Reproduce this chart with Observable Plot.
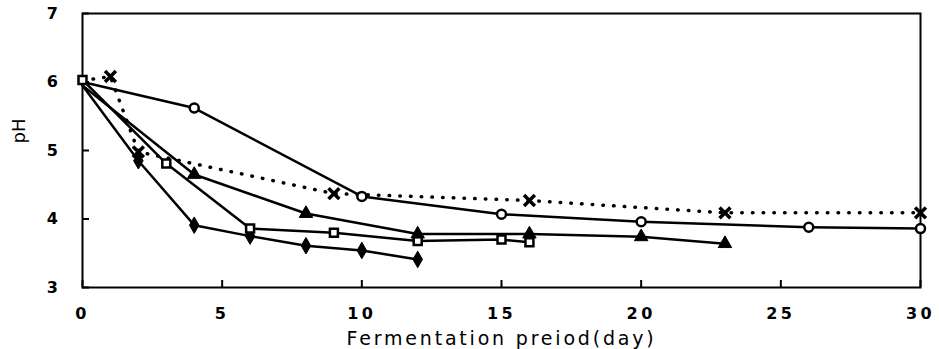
<!DOCTYPE html>
<html>
<head>
<meta charset="utf-8">
<script src="https://cdn.jsdelivr.net/npm/d3@7"></script>
<script src="https://cdn.jsdelivr.net/npm/@observablehq/plot@0.6"></script>
<style>
  html, body { margin: 0; padding: 0; background: #fff; }
  #chart { width: 939px; height: 349px; }
  #chart g[aria-label="x-axis tick label"] text, #chart g[aria-label="y-axis tick label"] text { letter-spacing: 3.5px; }
  #chart g[aria-label="x-axis label"] text { letter-spacing: 2.8px; font-weight: normal; font-size: 19px; }
</style>
</head>
<body>
<div id="chart"></div>
<script>
// Data
const xTicks = [0, 5, 10, 15, 20, 25, 30];
const yTicks = [3, 4, 5, 6, 7];

const circleDays = [0, 4, 10, 15, 20, 26, 30];
const circlePH   = [6.0, 5.62, 4.33, 4.07, 3.96, 3.88, 3.86];

const crossDays  = [0, 1, 2, 9, 16, 23, 30];
const crossPH    = [6.02, 6.08, 4.98, 4.37, 4.27, 4.09, 4.09];

const diamondDays = [0, 2, 4, 6, 8, 10, 12];
const diamondPH   = [5.95, 4.85, 3.91, 3.75, 3.61, 3.54, 3.41];

const squareDays = [0, 3, 6, 9, 12, 15, 16];
const squarePH   = [6.03, 4.81, 3.86, 3.80, 3.68, 3.70, 3.66];

const triangleDays = [0, 4, 8, 12, 16, 20, 23];
const trianglePH   = [5.95, 4.65, 4.08, 3.78, 3.78, 3.74, 3.64];

const toRows = (days, ph) => days.map((d, i) => ({day: d, ph: ph[i], first: i === 0}));
const circle = toRows(circleDays, circlePH);
const cross = toRows(crossDays, crossPH);
const diamond = toRows(diamondDays, diamondPH);
const square = toRows(squareDays, squarePH);
const triangle = toRows(triangleDays, trianglePH);

const lineOpts = {x: "day", y: "ph", stroke: "black", strokeWidth: 2.5};

const chart = Plot.plot({
  width: 939,
  height: 349,
  marginLeft: 82,
  marginRight: 19,
  marginTop: 13,
  marginBottom: 62,
  style: {fontFamily: "DejaVu Sans, sans-serif", background: "white", color: "black"},
  x: {type: "linear", domain: [0, 30]},
  y: {type: "linear", domain: [3, 7]},
  marks: [
    Plot.frame({stroke: "black", strokeWidth: 2}),
    Plot.axisX({ticks: xTicks, tickSize: -7, tickPadding: 27, strokeWidth: 2, fontSize: 16, fontWeight: "bold",
      tickFormat: d3.format("d"),
      label: "Fermentation preiod(day)", labelAnchor: "center", labelArrow: "none", labelOffset: 57}),
    Plot.axisY({ticks: yTicks, tickSize: -7, tickPadding: 28, strokeWidth: 2, fontSize: 16, fontWeight: "bold",
      tickFormat: d3.format("d"), label: null}),
    Plot.text(["pH"], {frameAnchor: "left", rotate: -90, dx: -63, dy: -7, fontSize: 18, fill: "black", letterSpacing: 1}),
    Plot.line(cross, {x: "day", y: "ph", stroke: "black", strokeWidth: 3.5, strokeDasharray: "0.5,10.2", strokeLinecap: "round"}),
    Plot.line(circle, lineOpts),
    Plot.line(diamond, lineOpts),
    Plot.line(square, lineOpts),
    Plot.line(triangle, lineOpts),
    Plot.dot(cross.filter(d => !d.first), {x: "day", y: "ph", symbol: "times", r: 5, stroke: "black", strokeWidth: 3.5}),
    Plot.dot(circle.filter(d => !d.first), {x: "day", y: "ph", symbol: "circle", r: 4.5, stroke: "black", fill: "white", strokeWidth: 2.5}),
    Plot.dot(diamond.filter(d => !d.first), {x: "day", y: "ph", symbol: "diamond", r: 5, fill: "black", stroke: "black", strokeWidth: 1}),
    Plot.dot(square, {x: "day", y: "ph", symbol: "square", r: 4.5, stroke: "black", fill: "white", strokeWidth: 2.5}),
    Plot.dot(triangle.filter(d => !d.first), {x: "day", y: "ph", symbol: "triangle", r: 5, fill: "black", stroke: "black", strokeWidth: 1})
  ]
});
document.getElementById("chart").appendChild(chart);
</script>
</body>
</html>
